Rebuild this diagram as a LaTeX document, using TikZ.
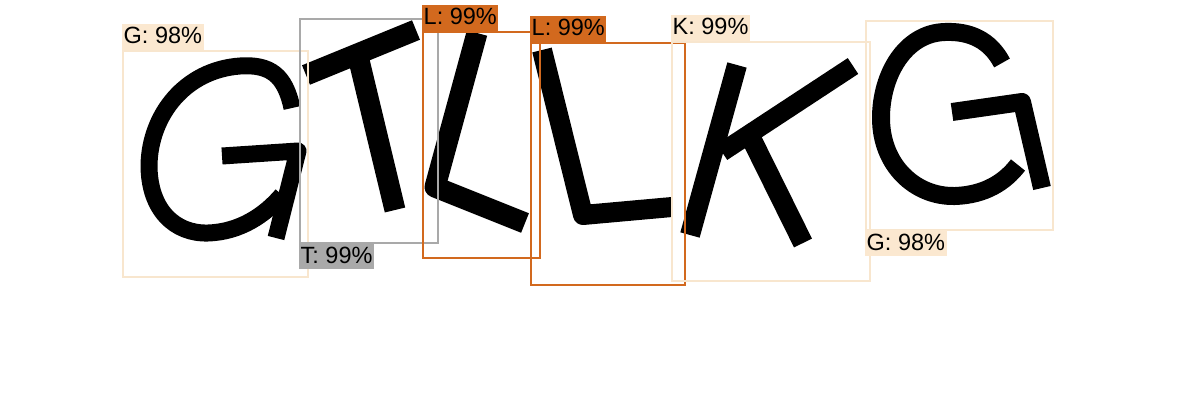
\documentclass[tikz,border=0pt]{standalone}
\usepackage{fontspec}
\setmainfont{Liberation Sans}
\definecolor{peach}{HTML}{FBE8D0}
\definecolor{peachline}{HTML}{F8E6CE}
\definecolor{grayc}{HTML}{A9A9A9}
\definecolor{choco}{HTML}{D2691E}
\begin{document}
\begin{tikzpicture}[x=1pt,y=-1pt,
  letter/.style={line width=#1,black,line join=round,line cap=butt},
  letter/.default=18pt,
  bbox/.style={line width=2pt},
  lab/.style={inner xsep=1.5pt,inner ysep=1pt,text height=19pt,text depth=5pt,font=\fontsize{23.5}{24}\selectfont,text=black}]
\useasboundingbox[fill=white] (0,0) rectangle (1200,420);
% letters
% G1
\draw[letter=17pt] (292,108) .. controls (285,75) and (270,64) .. (240,66) .. controls (185,70) and (150,115) .. (149,165) .. controls (149,210) and (175,234) .. (208,233) .. controls (240,232) and (265,215) .. (282,195);
\draw[letter=17pt] (222,156) -- (298,151) -- (276,238);
% T
\draw[letter=21pt] (306,75) -- (416,30);
\draw[letter=21pt] (357,52) -- (395,210);
% L1
\draw[letter=21pt] (477,33) -- (435,187) -- (525,223);
% L2
\draw[letter=20pt] (542,50) -- (583,215) -- (672,207);
% K
\draw[letter=20pt] (737,65) -- (690,235);
\draw[letter=19pt] (853,66) -- (722,152);
\draw[letter=20pt] (752,140) -- (803,243);
% G2
\draw[letter=18pt] (1002,63) .. controls (990,40) and (970,31) .. (945,32) .. controls (905,33) and (881,75) .. (881,118) .. controls (881,165) and (915,197) .. (955,196) .. controls (985,195) and (1005,182) .. (1018,165);
\draw[letter=18pt] (952,112) -- (1022,102) -- (1042,188);
% boxes
\draw[bbox,peachline] (123,51) rectangle (308,277);
\draw[bbox,grayc] (300,19) rectangle (438,243);
\draw[bbox,choco] (423,32) rectangle (540,258);
\draw[bbox,choco] (531,43) rectangle (685,285);
\draw[bbox,peachline] (672,42) rectangle (870,281);
\draw[bbox,peachline] (866,21) rectangle (1053,230);
% labels
\node[lab,fill=peach,anchor=south west] (lg1) at (122,50) {G: 98\%};
\node[lab,fill=grayc,anchor=north west] (lt) at (299,243) {T: 99\%};
\node[lab,fill=choco,anchor=south west] (ll1) at (422,31) {L: 99\%};
\node[lab,fill=choco,anchor=south west] (ll2) at (530,42) {L: 99\%};
\node[lab,fill=peach,anchor=south west] (lk) at (671,41) {K: 99\%};
\node[lab,fill=peach,anchor=north west] (lg2) at (865,230) {G: 98\%};
\end{tikzpicture}
\end{document}
